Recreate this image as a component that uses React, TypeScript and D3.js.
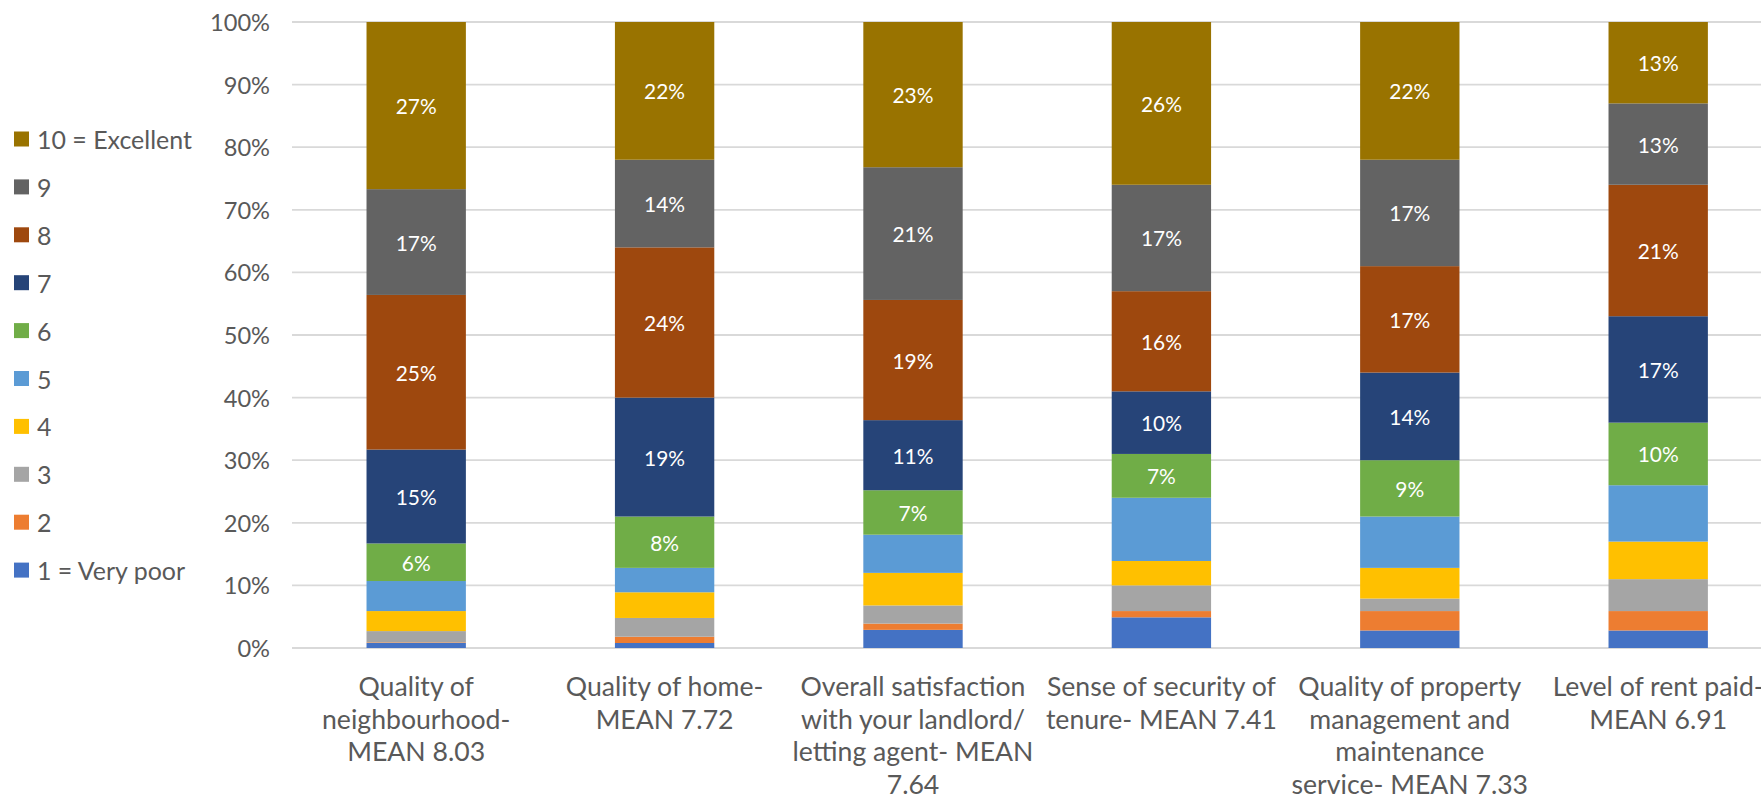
import React from "react";
import * as d3 from "d3";

// ---------- data ----------
const categoryLines: string[][] = [
  ["Quality of", "neighbourhood-", "MEAN 8.03"],
  ["Quality of home-", "MEAN 7.72"],
  ["Overall satisfaction", "with your landlord/", "letting agent- MEAN", "7.64"],
  ["Sense of security of", "tenure- MEAN 7.41"],
  ["Quality of property", "management and", "maintenance", "service- MEAN 7.33"],
  ["Level of rent paid-", "MEAN 6.91"],
];

const ratingNames = ["1 = Very poor", "2", "3", "4", "5", "6", "7", "8", "9", "10 = Excellent"];

const r1 = [0.8, 0.8, 2.9, 4.9, 2.8, 2.8];
const r2 = [0.1, 1.0, 1.0, 1.0, 3.1, 3.1];
const r3 = [1.8, 3.0, 2.9, 4.1, 2.0, 5.1];
const r4 = [3.2, 4.1, 5.2, 3.9, 4.9, 6.0];
const r5 = [4.8, 3.9, 6.1, 10.1, 8.2, 9.0];
const r6 = [6.0, 8.2, 7.1, 7.0, 9.0, 10.0];
const r7 = [15.0, 19.0, 11.2, 10.0, 14.0, 17.0];
const r8 = [24.7, 24.0, 19.2, 16.0, 17.0, 21.0];
const r9 = [16.9, 14.0, 21.2, 17.0, 17.0, 13.0];
const r10 = [26.7, 22.0, 23.2, 26.0, 22.0, 13.0];

const yTicks = [0, 10, 20, 30, 40, 50, 60, 70, 80, 90, 100];
const labelledRatings = ["6", "7", "8", "9", "10 = Excellent"];

const colors = [
  "#4472C4", "#ED7D31", "#A5A5A5", "#FFC000", "#5B9BD5",
  "#70AD47", "#264478", "#9E480E", "#636363", "#997300",
];

// ---------- helpers ----------
const FAMILY = "Lato, 'Open Sans', sans-serif";
function fitSize(text: string, target: number): number {
  const ctx = document.createElement("canvas").getContext("2d");
  if (!ctx) return 20;
  ctx.font = `100px ${FAMILY}`;
  const w = ctx.measureText(text).width;
  return (100 * target) / w;
}

export default function App() {
  const W = 1761;
  const H = 805;
  const series = [r1, r2, r3, r4, r5, r6, r7, r8, r9, r10];
  const ids = categoryLines.map((_, i) => String(i));
  const rows = ids.map((id, i) => {
    const o: any = { id };
    ratingNames.forEach((n, k) => (o[n] = series[k][i]));
    return o;
  });
  const stacked = d3.stack<any>().keys(ratingNames)(rows);

  const x = d3.scaleBand<string>().domain(ids).range([292, 1782.4]).paddingInner(0.6).paddingOuter(0.3);
  const y = d3.scaleLinear().domain([0, 100]).range([648, 22]);

  const tickSize = fitSize("100%", 60);
  const legendSize = fitSize("10 = Excellent", 155);
  const dataSize = fitSize("13%", 41);
  const xSize = fitSize("Overall satisfaction", 225);

  const legendOrder = ratingNames.slice().reverse();

  return (
    <svg
      width={W}
      height={H}
      style={{ position: "absolute", left: 0, top: 0, background: "#fff", fontFamily: FAMILY }}
    >
      <rect width={W} height={H} fill="#fff" />
      {/* gridlines */}
      {yTicks.map((t) => (
        <g key={t}>
          <line x1={292} x2={W} y1={y(t)} y2={y(t)} stroke="#D9D9D9" strokeWidth={1.8} />
          <text x={270} y={y(t)} textAnchor="end" dominantBaseline="central" fontSize={tickSize} fill="#595959">
            {t}%
          </text>
        </g>
      ))}
      {/* bars */}
      {stacked.map((s, k) => (
        <g key={s.key} fill={colors[k]}>
          {s.map((d, i) => (
            <rect
              key={i}
              x={x(ids[i])}
              y={y(d[1])}
              width={x.bandwidth()}
              height={y(d[0]) - y(d[1])}
            />
          ))}
        </g>
      ))}
      {/* data labels */}
      {stacked
        .filter((s) => labelledRatings.includes(s.key))
        .map((s) => (
          <g key={"l" + s.key}>
            {s.map((d, i) => (
              <text
                key={i}
                x={(x(ids[i]) as number) + x.bandwidth() / 2}
                y={(y(d[0]) + y(d[1])) / 2}
                textAnchor="middle"
                dominantBaseline="central"
                fontSize={dataSize}
                fill="#FFFFFF"
              >
                {Math.round(d[1] - d[0])}%
              </text>
            ))}
          </g>
        ))}
      {/* x labels */}
      {categoryLines.map((lines, i) => (
        <text
          key={i}
          x={(x(ids[i]) as number) + x.bandwidth() / 2}
          textAnchor="middle"
          fontSize={xSize}
          fill="#595959"
        >
          {lines.map((ln, j) => (
            <tspan key={j} x={(x(ids[i]) as number) + x.bandwidth() / 2} y={686 + j * 32.6} dominantBaseline="central">
              {ln}
            </tspan>
          ))}
        </text>
      ))}
      {/* legend */}
      {legendOrder.map((name, j) => {
        const k = ratingNames.indexOf(name);
        const cy = 139 + j * 47.9;
        return (
          <g key={name}>
            <rect x={14} y={cy - 7.5} width={15} height={15} fill={colors[k]} />
            <text x={37} y={cy} dominantBaseline="central" fontSize={legendSize} fill="#595959">
              {name}
            </text>
          </g>
        );
      })}
    </svg>
  );
}
